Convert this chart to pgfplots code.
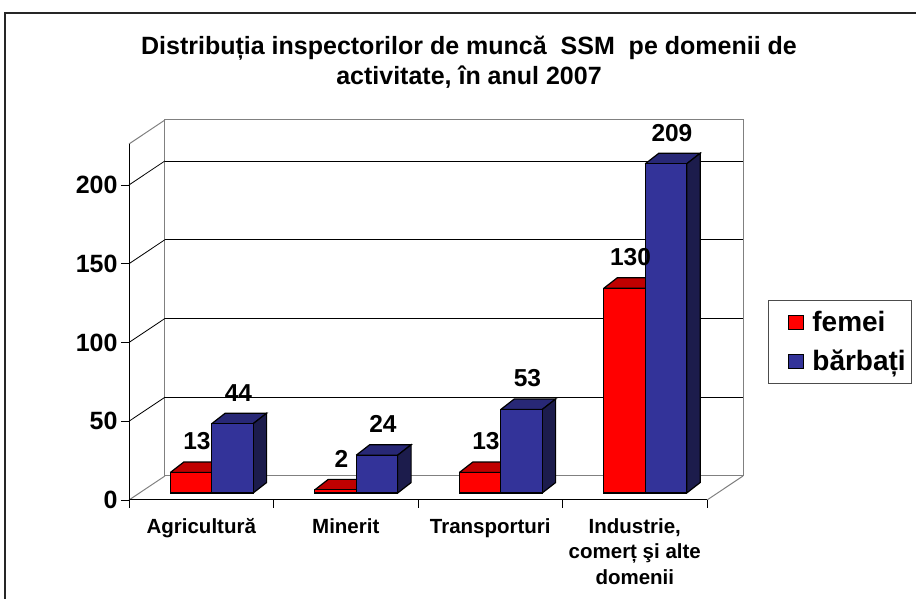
\documentclass[border=0pt]{standalone}
\usepackage{pgfplots}
\usepackage{pgfplotstable}
\pgfplotsset{compat=1.18}
\usepackage{fontspec}
\setmainfont{Liberation Sans}
\definecolor{redfront}{RGB}{255,0,0}
\definecolor{redtop}{RGB}{192,0,0}
\definecolor{bluefront}{RGB}{51,51,153}
\definecolor{bluetop}{RGB}{40,40,118}
\definecolor{blueside}{RGB}{28,28,76}
\definecolor{wallgray}{RGB}{128,128,128}

\pgfplotstableread{
x femei barbati
0 13 44
1 2 24
2 13 53
3 130 209
}\datatable

\begin{document}
\begin{tikzpicture}
\path[use as bounding box] (0,0) rectangle (916pt,599pt);
\draw[black!85, line width=1.2pt] (5pt,0pt) -- (5pt,586pt) -- (916pt,586pt);
\node[align=center, font=\bfseries\fontsize{25}{30}\selectfont] at (469pt,537pt)
  {Distribuția inspectorilor de muncă\ \ SSM\ \ pe domenii de\\activitate, în anul 2007};
\begin{axis}[
  at={(129pt,99pt)}, anchor=south west,
  width=614pt, height=380pt, scale only axis,
  xmin=-0.5721, xmax=3.6766, ymin=-4.42, ymax=236.82,
  clip=false,
  axis line style={draw=none},
  xtick={-0.0721,0.9279,1.9279,2.9279},
  xticklabels={Agricultură, Minerit, Transporturi, {Industrie,\\comerț şi alte\\domenii}},
  xtick style={draw=none},
  xticklabel style={align=center, anchor=north, yshift=-7pt, font=\bfseries\fontsize{20.5}{25.5}\selectfont},
  ytick={-4.42,45.58,95.58,145.58,195.58},
  yticklabels={0,50,100,150,200},
  ytick pos=left, xtick pos=bottom, tick align=outside, major tick length=8pt,
  ytick style={black, line width=0.8pt},
  yticklabel style={font=\bfseries\fontsize{25}{28}\selectfont},
  /pgf/number format/assume math mode=true,
  legend style={at={(1.0407,0.5263)}, anchor=north west, draw=black!70, line width=0.8pt,
    font=\bfseries\fontsize{28}{32}\selectfont, inner xsep=4pt, inner ysep=9pt, row sep=13pt,
    cells={anchor=west}},
  legend image code/.code={\path[draw=none, fill=none] (-16pt,0pt) -- (22pt,0pt);
     \draw[#1, draw=black, line width=1pt] (0pt,-7pt) rectangle (15pt,7pt);},
  nodes near coords style={font=\bfseries\fontsize{24.5}{28}\selectfont, anchor=center, xshift=6pt, yshift=31pt, text=black},
]
% back wall
\addplot[forget plot, draw=wallgray, line width=1pt] coordinates {(-0.3234,10.82) (-0.3234,236.82) (3.6766,236.82) (3.6766,10.82)};
\addplot[forget plot, draw=wallgray, line width=1pt] coordinates {(-0.3234,10.82) (3.6766,10.82)};
\pgfplotsinvokeforeach{60.82,110.82,160.82,210.82}{
  \addplot[forget plot, draw=black, line width=0.8pt] coordinates {(-0.3234,#1) (3.6766,#1)};
}
% left wall
\addplot[forget plot, draw=wallgray, line width=1pt] coordinates {(-0.5721,-4.42) (-0.3234,10.82)};
\addplot[forget plot, draw=black, line width=0.8pt] coordinates {(-0.5721,45.58) (-0.3234,60.82)};
\addplot[forget plot, draw=black, line width=0.8pt] coordinates {(-0.5721,95.58) (-0.3234,110.82)};
\addplot[forget plot, draw=black, line width=0.8pt] coordinates {(-0.5721,145.58) (-0.3234,160.82)};
\addplot[forget plot, draw=black, line width=0.8pt] coordinates {(-0.5721,195.58) (-0.3234,210.82)};
\addplot[forget plot, draw=wallgray, line width=1pt] coordinates {(-0.5721,221.58) (-0.3234,236.82)};
\addplot[forget plot, draw=black, line width=1pt] coordinates {(-0.5721,-4.42) (-0.5721,221.58)};
% floor
\addplot[forget plot, draw=black, line width=1pt] coordinates {(-0.5721,-4.42) (3.4279,-4.42)};
\addplot[forget plot, draw=wallgray, line width=1pt] coordinates {(3.4279,-4.42) (3.6766,10.82)};
% category separators
\pgfplotsinvokeforeach{-0.5721,0.4279,1.4279,2.4279,3.4279}{
  \addplot[forget plot, draw=black, line width=1pt] coordinates {(#1,-4.42) (#1,-9.5)};
}
% red top faces
\addplot[forget plot, fill=redtop, draw=black, line width=1.2pt] coordinates {(-0.2867,13) (0,13) (0.0934,19.66) (-0.1933,19.66) (-0.2867,13)};
\addplot[forget plot, fill=redtop, draw=black, line width=1.2pt] coordinates {(0.7133,2) (1,2) (1.0934,8.66) (0.8067,8.66) (0.7133,2)};
\addplot[forget plot, fill=redtop, draw=black, line width=1.2pt] coordinates {(1.7133,13) (2,13) (2.0934,19.66) (1.8067,19.66) (1.7133,13)};
\addplot[forget plot, fill=redtop, draw=black, line width=1.2pt] coordinates {(2.7133,130) (3,130) (3.0934,136.66) (2.8067,136.66) (2.7133,130)};
% red front
\addplot[ybar, bar width=0.2867, bar shift=0, fill=redfront, draw=black, line width=1.2pt, nodes near coords]
  table[x expr=\thisrow{x}-0.14335, y=femei]{\datatable};
\addlegendentry{femei}
% blue top and side faces
\addplot[forget plot, fill=bluetop, draw=black, line width=1.2pt] coordinates {(0,44) (0.2867,44) (0.3801,50.66) (0.0934,50.66) (0,44)};
\addplot[forget plot, fill=blueside, draw=black, line width=1.2pt] coordinates {(0.2867,0) (0.2867,44) (0.3801,50.66) (0.3801,6.66) (0.2867,0)};
\addplot[forget plot, fill=bluetop, draw=black, line width=1.2pt] coordinates {(1,24) (1.2867,24) (1.3801,30.66) (1.0934,30.66) (1,24)};
\addplot[forget plot, fill=blueside, draw=black, line width=1.2pt] coordinates {(1.2867,0) (1.2867,24) (1.3801,30.66) (1.3801,6.66) (1.2867,0)};
\addplot[forget plot, fill=bluetop, draw=black, line width=1.2pt] coordinates {(2,53) (2.2867,53) (2.3801,59.66) (2.0934,59.66) (2,53)};
\addplot[forget plot, fill=blueside, draw=black, line width=1.2pt] coordinates {(2.2867,0) (2.2867,53) (2.3801,59.66) (2.3801,6.66) (2.2867,0)};
\addplot[forget plot, fill=bluetop, draw=black, line width=1.2pt] coordinates {(3,209) (3.2867,209) (3.3801,215.66) (3.0934,215.66) (3,209)};
\addplot[forget plot, fill=blueside, draw=black, line width=1.2pt] coordinates {(3.2867,0) (3.2867,209) (3.3801,215.66) (3.3801,6.66) (3.2867,0)};
% blue front
\addplot[ybar, bar width=0.2867, bar shift=0, fill=bluefront, draw=black, line width=1.2pt, nodes near coords]
  table[x expr=\thisrow{x}+0.14335, y=barbati]{\datatable};
\addlegendentry{bărbați}
\end{axis}
\end{tikzpicture}
\end{document}
